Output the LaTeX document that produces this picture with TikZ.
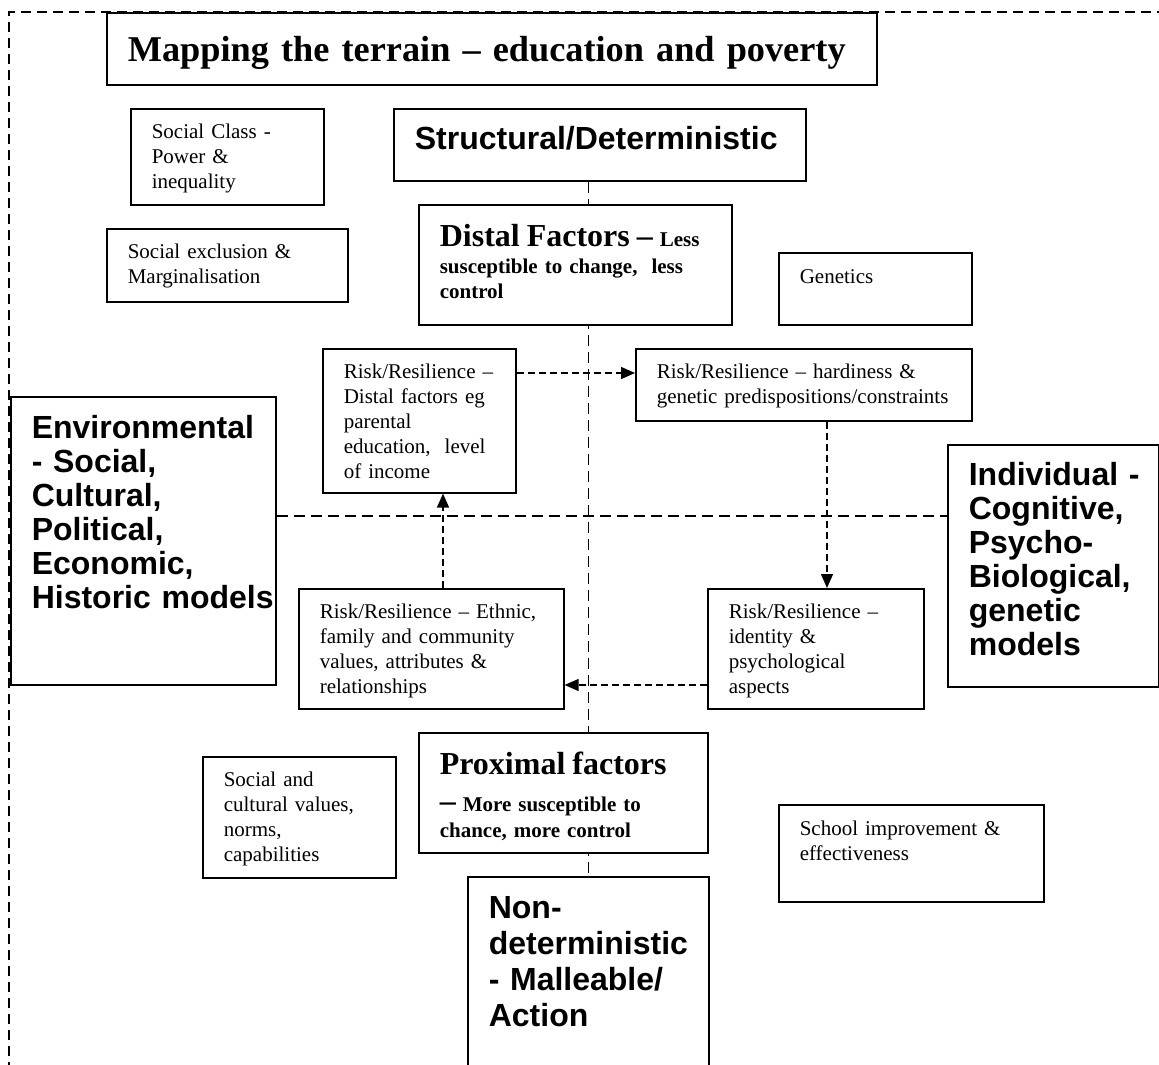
\documentclass[tikz,border=0pt]{standalone}
\usepackage{fontspec}
\setmainfont{Liberation Serif}
\setsansfont{Liberation Sans}
\usetikzlibrary{arrows.meta,backgrounds}
\newcommand{\smallrm}{\fontsize{21}{25}\selectfont}
\newcommand{\bigrm}{\fontsize{32}{34}\selectfont\bfseries}
\newcommand{\bigsf}{\fontsize{32}{34}\selectfont\sffamily\bfseries}
\newcommand{\titlefont}{\fontsize{36.3}{40}\selectfont\bfseries}
\tikzset{
  box/.style     ={draw,line width=1.6pt,fill=white,anchor=north west,
                   align=left,inner sep=0pt,font=\smallrm,
                   execute at begin node={\leftskip=21pt}},
  dims/.style n args={3}{text width=#1pt,text height=#2pt,text depth=#3pt},
  bigbox/.style  ={box,font=\bigsf},
  framedash/.style={line width=1.5pt,dash pattern=on 10pt off 6pt},
  axisdash/.style={line width=1.4pt,dash pattern=on 11pt off 6pt},
  link/.style    ={-{Triangle[length=14pt,width=12pt]},line width=1.4pt,
                   dash pattern=on 7pt off 4pt},
}
\begin{document}
\begin{tikzpicture}[x=1pt,y=-1pt]
\useasboundingbox (0,0) rectangle (1159,1065);
%---------------- outer frame
\draw[framedash] (9,1200) -- (9,12) -- (1300,12);
%---------------- top row
\node[box,dims={770}{49}{23},font=\titlefont] (title) at (106,12)
  {Mapping the terrain -- education and poverty};
\node[box,dims={193}{30}{66}] (socclass) at (130,108)
  {Social Class -\\Power \&\\inequality};
\node[box,dims={241}{30}{43}] (socexcl) at (106,228)
  {Social exclusion \&\\Marginalisation};
\node[bigbox,dims={412}{41}{31}] (struct) at (393,108) {Structural/Deterministic};
\node[box,dims={313}{42}{78},font=\smallrm\bfseries] (distal) at (418,204)
  {{\bigrm Distal Factors --} Less\\[2pt]susceptible to change,\ \ less\\control};
\node[box,dims={193}{31}{41}] (genetics) at (778,252) {Genetics};
%---------------- risk / resilience
\node[box,dims={193}{30}{114}] (rrdistal) at (322,348)
  {Risk/Resilience --\\Distal factors eg\\parental\\education,\ \ level\\of income};
\node[box,dims={336}{30}{42}] (rrgenetic) at (635,348)
  {Risk/Resilience -- hardiness \&\\genetic predispositions/constraints};
\node[box,dims={265}{30}{90}] (rrfamily) at (298,588)
  {Risk/Resilience -- Ethnic,\\family and community\\values, attributes \&\\relationships};
\node[box,dims={216}{30}{90}] (rridentity) at (707,588)
  {Risk/Resilience --\\identity \&\\psychological\\aspects};
%---------------- sides
\node[bigbox,dims={265}{42}{246}] (env) at (10,396)
  {Environmental\\- Social,\\Cultural,\\Political,\\Economic,\\Historic~models};
\node[bigbox,dims={211}{41}{201}] (indiv) at (947,444)
  {Individual -\\Cognitive,\\Psycho-\\Biological,\\genetic\\models};
%---------------- bottom row
\node[box,dims={193}{30}{91}] (socvalues) at (202,756)
  {Social and\\cultural values,\\norms,\\capabilities};
\node[box,dims={289}{42}{78},font=\smallrm\bfseries] (proximal) at (418,732)
  {{\bigrm Proximal factors}\\[12pt]{\bigrm --} More susceptible to\\[1pt]chance, more control};
\node[box,dims={265}{31}{66}] (school) at (778,804)
  {School improvement \&\\effectiveness};
\node[bigbox,dims={241}{42}{178}] (nondet) at (467,876)
  {Non-\\[2pt]deterministic\\[2pt]- Malleable/\\[2pt]Action};
%---------------- axes
\coordinate (midrow) at (0,516);
\begin{scope}[on background layer]
\draw[axisdash] (nondet.north |- struct.south) -- (nondet.north);
\draw[axisdash] (env.east |- midrow) -- (indiv.west |- midrow);
\end{scope}
%---------------- links
\coordinate (toprow) at (0,373);
\coordinate (lowrow) at (0,685);
\coordinate (rightcol) at (827,0);
\coordinate (leftcol) at (443,0);
\draw[link] (rrdistal.east |- toprow) -- (rrgenetic.west |- toprow);
\draw[link] (rrgenetic.south -| rightcol) -- (rridentity.north -| rightcol);
\draw[link] (rridentity.west |- lowrow) -- (rrfamily.east |- lowrow);
\draw[link] (rrfamily.north -| leftcol) -- (rrdistal.south -| leftcol);
\end{tikzpicture}
\end{document}
